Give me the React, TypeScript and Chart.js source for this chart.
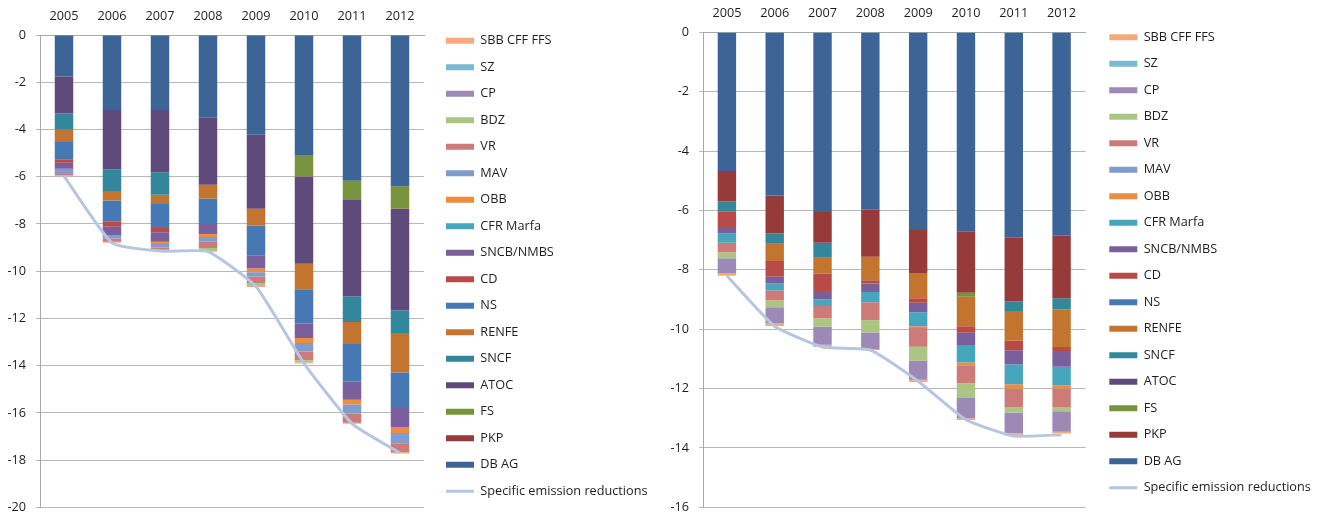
import React, { useEffect, useRef } from "react";
import { Chart, registerables } from "chart.js";

Chart.register(...registerables);

// ---------- categories & series ----------
const years = ["2005", "2006", "2007", "2008", "2009", "2010", "2011", "2012"];

// stacking order (first = nearest zero); legend shows them reversed
const seriesNames = [
  "DB AG", "PKP", "FS", "ATOC", "SNCF", "RENFE", "NS", "CD", "SNCB/NMBS",
  "CFR Marfa", "OBB", "MAV", "VR", "BDZ", "CP", "SZ", "SBB CFF FFS",
];
const seriesColors = [
  "#3d6497", "#963b39", "#77933c", "#604a7b", "#33879c", "#c3752f", "#4679b4",
  "#b84a47", "#7b5e9c", "#46a6be", "#eb8c3f", "#7f9dcc", "#cc7b78", "#abc682",
  "#9c89b6", "#7cb8cf", "#f7a97a",
];
const lineName = "Specific emission reductions";
const lineColor = "#b6c6e1";

// ---------- left chart ----------
const leftDbAg = [-1.76, -3.18, -3.18, -3.5, -4.22, -5.08, -6.17, -6.4];
const leftPkp = [0, 0, 0, 0, 0, 0, 0, 0];
const leftFs = [0, 0, 0, 0, 0, -0.91, -0.78, -0.96];
const leftAtoc = [-1.56, -2.5, -2.63, -2.84, -3.14, -3.69, -4.12, -4.3];
const leftSncf = [-0.69, -0.92, -0.95, 0, 0, 0, -1.08, -0.96];
const leftRenfe = [-0.52, -0.41, -0.4, -0.58, -0.71, -1.08, -0.93, -1.67];
const leftNs = [-0.73, -0.88, -1.01, -1.08, -1.26, -1.46, -1.59, -1.5];
const leftCd = [-0.15, -0.21, -0.18, 0, 0, 0, 0, 0];
const leftSncb = [-0.25, -0.37, -0.4, -0.44, -0.55, -0.61, -0.77, -0.81];
const leftCfr = [0, 0, 0, 0, 0, 0, 0, 0];
const leftObb = [0, 0, -0.1, -0.11, -0.17, -0.21, -0.2, -0.25];
const leftMav = [-0.22, -0.15, -0.15, -0.2, -0.18, -0.36, -0.38, -0.43];
const leftVr = [-0.06, -0.13, -0.09, -0.27, -0.29, -0.37, -0.4, -0.38];
const leftBdz = [0, 0, 0, -0.12, -0.11, -0.1, 0, 0];
const leftCp = [0, 0, 0, 0, 0, 0, 0, 0];
const leftSz = [0, 0, 0, 0, 0, 0, 0, 0];
const leftSbb = [-0.04, -0.05, -0.05, -0.04, -0.04, -0.04, -0.04, -0.06];
const leftLine = [-5.98, -8.8, -9.15, -9.17, -10.65, -13.9, -16.45, -17.7];
const leftTicksMin = -20;

// ---------- right chart ----------
const rightDbAg = [-4.67, -5.5, -6.05, -5.98, -6.66, -6.7, -6.92, -6.85];
const rightPkp = [-1.03, -1.28, -1.04, -1.58, -1.45, -2.07, -2.14, -2.11];
const rightFs = [0, 0, 0, 0, 0, -0.14, 0, 0];
const rightAtoc = [0, 0, 0, 0, 0, 0, 0, 0];
const rightSncf = [-0.33, -0.34, -0.5, 0, 0, 0, -0.33, -0.37];
const rightRenfe = [0, -0.58, -0.53, -0.79, -0.85, -0.99, -1.0, -1.27];
const rightNs = [0, 0, 0, 0, 0, 0, 0, 0];
const rightCd = [-0.56, -0.53, -0.59, -0.11, -0.15, -0.22, -0.32, -0.13];
const rightSncb = [-0.19, -0.23, -0.28, -0.29, -0.32, -0.44, -0.48, -0.53];
const rightCfr = [-0.31, -0.24, -0.23, -0.34, -0.47, -0.56, -0.66, -0.63];
const rightObb = [0, 0, 0, 0, -0.06, -0.09, -0.15, -0.11];
const rightMav = [0, 0, 0, 0, 0, 0, 0, 0];
const rightVr = [-0.32, -0.32, -0.41, -0.61, -0.63, -0.61, -0.62, -0.62];
const rightBdz = [-0.2, -0.24, -0.29, -0.41, -0.46, -0.5, -0.19, -0.14];
const rightCp = [-0.51, -0.55, -0.6, -0.57, -0.65, -0.68, -0.69, -0.69];
const rightSz = [0, 0, 0, 0, 0, 0, 0, 0];
const rightSbb = [-0.08, -0.08, -0.08, -0.02, -0.08, -0.06, -0.08, -0.06];
const rightLine = [-8.2, -9.9, -10.6, -10.7, -11.75, -13.05, -13.6, -13.55];
const rightTicksMin = -16;

const leftSeries = [
  leftDbAg, leftPkp, leftFs, leftAtoc, leftSncf, leftRenfe, leftNs, leftCd, leftSncb,
  leftCfr, leftObb, leftMav, leftVr, leftBdz, leftCp, leftSz, leftSbb,
];
const rightSeries = [
  rightDbAg, rightPkp, rightFs, rightAtoc, rightSncf, rightRenfe, rightNs, rightCd, rightSncb,
  rightCfr, rightObb, rightMav, rightVr, rightBdz, rightCp, rightSz, rightSbb,
];

const FONT = "'Open Sans', sans-serif";
const FONT_SIZE = 12.7;
const TEXT = "#1e1e1e";

type PanelProps = {
  left: number;
  width: number;
  height: number;
  series: number[][];
  line: number[];
  yMin: number;
  yAxisWidth: number;
  xAxisHeight: number;
  padBottom: number;
  legendWidth: number;
  legendDx: number;
  legendDy: number;
};

function ChartPanel(p: PanelProps) {
  const ref = useRef<HTMLCanvasElement | null>(null);

  useEffect(() => {
    if (!ref.current) return;
    const lineIndex = p.series.length;

    const legendTweak = {
      id: "legendTweak",
      afterInit(chart: any) {
        const lg = chart.legend;
        if (!lg) return;
        const orig = lg.fit.bind(lg);
        lg.fit = function () {
          orig();
          this.width = p.legendWidth;
        };
      },
      afterLayout(chart: any) {
        const lg = chart.legend;
        if (!lg) return;
        lg.left += p.legendDx;
        lg.right += p.legendDx;
        lg.top += p.legendDy;
        lg.bottom += p.legendDy;
      },
    };

    const datasets: any[] = p.series.map((vals, i) => ({
      type: "bar",
      label: seriesNames[i],
      data: vals,
      backgroundColor: seriesColors[i],
      borderWidth: 0,
      barPercentage: 0.385,
      categoryPercentage: 1.0,
      order: 0,
    }));
    datasets.push({
      type: "line",
      label: lineName,
      data: p.line,
      borderColor: lineColor,
      backgroundColor: lineColor,
      borderWidth: 3,
      pointRadius: 0,
      tension: 0.15,
      fill: false,
      order: -1,
    });

    const chart = new Chart(ref.current, {
      type: "bar",
      data: { labels: years, datasets },
      options: {
        responsive: false,
        animation: false,
        layout: { padding: { top: 0, left: 0, right: 0, bottom: p.padBottom } },
        font: { family: FONT, size: FONT_SIZE },
        plugins: {
          tooltip: { enabled: false },
          legend: {
            position: "right",
            reverse: true,
            labels: {
              color: TEXT,
              font: { family: FONT, size: FONT_SIZE },
              usePointStyle: true,
              pointStyleWidth: 28,
              boxWidth: 28,
              boxHeight: 6,
              padding: 26.5 - FONT_SIZE,
              generateLabels: (chart: any) =>
                (Chart.defaults.plugins.legend.labels as any)
                  .generateLabels(chart)
                  .map((l: any) => ({
                    ...l,
                    pointStyle: l.datasetIndex === lineIndex ? "line" : "rect",
                    lineWidth: l.datasetIndex === lineIndex ? 3 : 0,
                  })),
            },
          },
        },
        scales: {
          x: {
            type: "category",
            position: "top",
            stacked: true,
            offset: true,
            grid: { drawOnChartArea: false, drawTicks: false },
            border: { display: true, color: "#a8a8a8" },
            ticks: { color: TEXT, padding: 11, font: { family: FONT, size: FONT_SIZE } },
            afterFit: (s: any) => {
              s.height = p.xAxisHeight;
            },
          },
          y: {
            stacked: true,
            min: p.yMin,
            max: 0,
            ticks: {
              stepSize: 2,
              color: TEXT,
              padding: 10,
              font: { family: FONT, size: FONT_SIZE },
            },
            grid: { color: "#b8b8b8", tickLength: 4 },
            border: { display: true, color: "#a8a8a8" },
            afterFit: (s: any) => {
              s.width = p.yAxisWidth;
            },
          },
        },
      } as any,
      plugins: [legendTweak],
    });

    return () => chart.destroy();
  }, []);

  return (
    <div
      style={{
        position: "absolute",
        left: p.left,
        top: 0,
        width: p.width,
        height: p.height,
      }}
    >
      <canvas
        ref={ref}
        width={p.width}
        height={p.height}
        style={{ width: p.width, height: p.height, display: "block" }}
      />
    </div>
  );
}

export default function App() {
  return (
    <div
      style={{
        position: "fixed",
        left: 0,
        top: 0,
        width: 1324,
        height: 525,
        overflow: "hidden",
        background: "#ffffff",
      }}
    >
      <ChartPanel
        left={0}
        width={662}
        height={525}
        series={leftSeries}
        line={leftLine}
        yMin={leftTicksMin}
        yAxisWidth={40}
        xAxisHeight={35}
        padBottom={8}
        legendWidth={238}
        legendDx={8.2}
        legendDy={7.45}
      />
      <ChartPanel
        left={662}
        width={662}
        height={525}
        series={rightSeries}
        line={rightLine}
        yMin={rightTicksMin}
        yAxisWidth={41}
        xAxisHeight={32.3}
        padBottom={13}
        legendWidth={238.5}
        legendDx={10}
        legendDy={6.55}
      />
    </div>
  );
}
